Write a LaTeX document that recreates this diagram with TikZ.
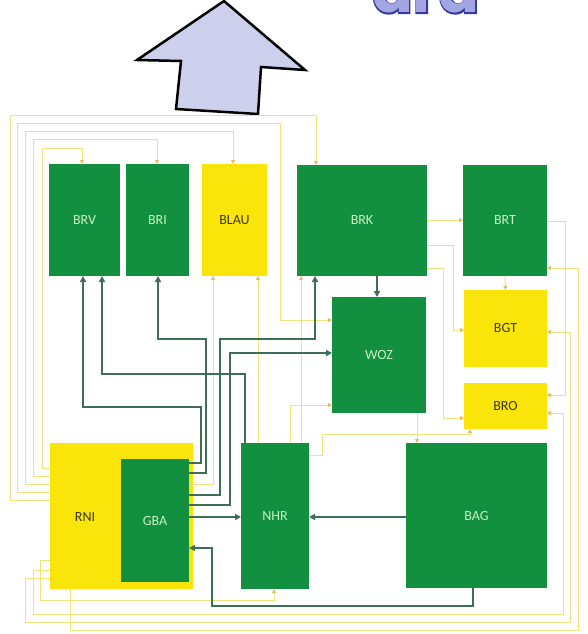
\documentclass[tikz,border=0pt]{standalone}
\usepackage{fontspec}
\setmainfont{Carlito}
\newfontfamily\titlefont{Poppins}
\newfontfamily\titleout{Poppins}[BoldFeatures={FakeBold=4}]
\usetikzlibrary{arrows.meta}
\definecolor{boxgreen}{HTML}{12903F}
\definecolor{boxyellow}{HTML}{F9E50A}
\definecolor{labgreen}{HTML}{C9EFC5}
\definecolor{labdark}{HTML}{3C3A12}
\definecolor{darkline}{HTML}{3E6D58}
\definecolor{yline}{HTML}{F0E27C}
\definecolor{ytip}{HTML}{E8BC60}
\definecolor{arrowfill}{HTML}{CDD0EC}
\definecolor{titlefill}{HTML}{A3A6E3}
\definecolor{titleline}{HTML}{343A9E}
\tikzset{
  box/.style={rectangle, inner sep=0pt, outer sep=0pt, font=\fontsize{14}{14}\selectfont},
  gbox/.style={box, fill=boxgreen, text=labgreen},
  ybox/.style={box, fill=boxyellow, text=labdark},
  dk/.style={draw=darkline, line width=1.6pt, -{Triangle[length=6pt,width=6pt]}},
  yl/.style={draw=yline, line width=1pt, -{Triangle[length=4pt,width=4pt,color=ytip]}},
  bigarrow/.style={draw=black, line width=2.5pt, fill=arrowfill, line join=miter},
  titletext/.style={inner sep=0pt, anchor=base west, font=\titlefont\bfseries\fontsize{60}{60}\selectfont},
  titleouttext/.style={inner sep=0pt, anchor=base west, font=\titleout\bfseries\fontsize{60}{60}\selectfont}
}
\begin{document}
\begin{tikzpicture}[x=1pt,y=-1pt]
\useasboundingbox[fill=white] (0,0) rectangle (587,634);

% partially visible title
\begin{scope}
\clip (0,0) rectangle (587,634);
\node[titleouttext, text=titleline] (tshadow) at (372,13) {ard};
\node[titletext, text=titlefill] (title) at (372,13) {ard};
\end{scope}

% big arrow
\draw[bigarrow] (224,1) -- (305,70) -- (261,67) -- (258,114) -- (176,109) -- (181,61) -- (137,60) -- cycle;

% boxes
\node[gbox, minimum width=71pt, minimum height=112pt] (brv) at (84.5,220) {BRV};
\node[gbox, minimum width=63pt, minimum height=112pt] (bri) at (157.5,220) {BRI};
\node[ybox, minimum width=65pt, minimum height=112pt] (blau) at (234.5,220) {BLAU};
\node[gbox, minimum width=130pt, minimum height=111pt] (brk) at (362,220.5) {BRK};
\node[gbox, minimum width=84pt, minimum height=111pt] (brt) at (505,220.5) {BRT};
\node[gbox, minimum width=94pt, minimum height=116pt] (woz) at (379,355) {WOZ};
\node[ybox, minimum width=83pt, minimum height=77pt] (bgt) at (505.5,328.5) {BGT};
\node[ybox, minimum width=83pt, minimum height=46pt] (bro) at (505.5,406) {BRO};
\node[ybox, minimum width=143pt, minimum height=146pt] (rni) at (121.5,516) {};
\node[box, text=labdark] (rnit) at (85,517) {RNI};
\node[gbox, minimum width=68pt, minimum height=123pt] (gba) at (155,520.5) {GBA};
\node[gbox, minimum width=68pt, minimum height=146pt] (nhr) at (275,516) {NHR};
\node[gbox, minimum width=141pt, minimum height=145pt] (bag) at (476.5,515.5) {BAG};

% yellow connectors
\draw[yl] (rni.west |- 0,468) -- (42,468) -- (42,148) -- (82,148) -- (brv.north -| 82,0);
\draw[yl] (rni.west |- 0,476) -- (33,476) -- (33,139) -- (157,139) -- (bri.north -| 157,0);
\draw[yl] (rni.west |- 0,484) -- (25,484) -- (25,131) -- (233,131) -- (blau.north -| 233,0);
\draw[yl] (rni.west |- 0,492) -- (17,492) -- (17,123) -- (280,123) -- (280,320) -- (woz.west |- 0,320);
\draw[yl] (rni.west |- 0,500) -- (10,500) -- (10,115) -- (316,115) -- (brk.north -| 316,0);
\draw[yl] (rni.west |- 0,560) -- (40,560) -- (40,600) -- (274,600) -- (nhr.south -| 274,0);
\draw[yl] (rni.west |- 0,570) -- (33,570) -- (33,614) -- (563,614) -- (563,413) -- (bro.east |- 0,413);
\draw[yl] (rni.west |- 0,578) -- (25,578) -- (25,622) -- (570,622) -- (570,332) -- (bgt.east |- 0,332);
\draw[yl] (rni.south -| 70,0) -- (70,630) -- (578,630) -- (578,268) -- (brt.east |- 0,268);
\draw[yl] (brt.east |- 0,221) -- (565,221) -- (565,395) -- (bro.east |- 0,395);
\draw[yl] (brk.east |- 0,220) -- (brt.west |- 0,220);
\draw[yl] (brk.east |- 0,245) -- (453,245) -- (453,330) -- (bgt.west |- 0,330);
\draw[yl] (brk.east |- 0,268) -- (443,268) -- (443,418) -- (bro.west |- 0,418);
\draw[yl] (nhr.east |- 0,455) -- (322,455) -- (322,434) -- (470,434) -- (bro.south -| 470,0);
\draw[yl] (nhr.north -| 301,0) -- (brk.south -| 301,0);
\draw[yl] (nhr.north -| 290,0) -- (290,405) -- (woz.west |- 0,405);
\draw[yl] (woz.south -| 417,0) -- (bag.north -| 417,0);
\draw[yl] (gba.east |- 0,484) -- (213,484) -- (blau.south -| 213,0);
\draw[yl] (nhr.north -| 258,0) -- (blau.south -| 258,0);
\draw[yl] (brt.south) -- (bgt.north);

% dark connectors
\draw[dk] (gba.east |- 0,463) -- (201,463) -- (201,407) -- (83,407) -- (brv.south -| 83,0);
\draw[dk] (nhr.north -| 245,0) -- (245,374) -- (102,374) -- (brv.south -| 102,0);
\draw[dk] (gba.east |- 0,473) -- (206,473) -- (206,339) -- (158,339) -- (bri.south -| 158,0);
\draw[dk] (gba.east |- 0,495) -- (220,495) -- (220,339) -- (315,339) -- (brk.south -| 315,0);
\draw[dk] (gba.east |- 0,505) -- (230,505) -- (230,353) -- (woz.west |- 0,353);
\draw[dk] (gba.east |- 0,517) -- (nhr.west |- 0,517);
\draw[dk] (bag.west |- 0,517) -- (nhr.east |- 0,517);
\draw[dk] (bag.south -| 473,0) -- (473,606) -- (212,606) -- (212,548) -- (gba.east |- 0,548);
\draw[dk] (brk.south -| 377,0) -- (woz.north -| 377,0);
\end{tikzpicture}
\end{document}
